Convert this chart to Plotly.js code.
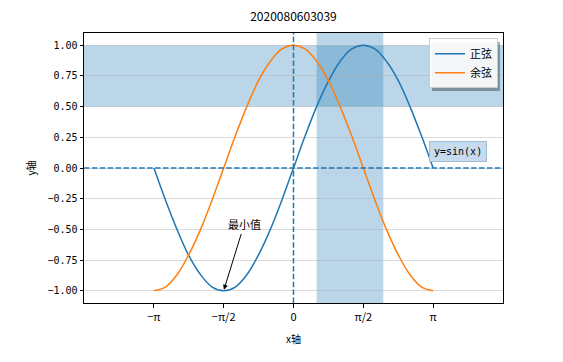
<!DOCTYPE html>
<html><head><meta charset="utf-8">
<script src="https://cdn.plot.ly/plotly-3.0.1.min.js"></script>
<style>html,body{margin:0;padding:0;background:#fff}#chart{width:563px;height:362px}</style>
</head><body><div id="chart"></div>
<script>
const xVals = [-3.14,-2.88,-2.62,-2.36,-2.09,-1.83,-1.57,-1.31,-1.05,-0.79,-0.52,-0.26,0,0.26,0.52,0.79,1.05,1.31,1.57,1.83,2.09,2.36,2.62,2.88,3.14];
const sinVals = [0,-0.26,-0.5,-0.71,-0.87,-0.97,-1,-0.97,-0.87,-0.71,-0.5,-0.26,0,0.26,0.5,0.71,0.87,0.97,1,0.97,0.87,0.71,0.5,0.26,0];
const cosVals = [-1,-0.97,-0.87,-0.71,-0.5,-0.26,0,0.26,0.5,0.71,0.87,0.97,1,0.97,0.87,0.71,0.5,0.26,0,-0.26,-0.5,-0.71,-0.87,-0.97,-1];
const seriesNames = ['正弦','余弦'];
const xTickVals = [-3.1416,-1.5708,0,1.5708,3.1416];
const xTickText = ['−π','−π/2','0','π/2','π'];
const yTickVals = [-1,-0.75,-0.5,-0.25,0,0.25,0.5,0.75,1];
const hSpan = [0.5, 1.0];
const vSpan = [0.52, 2.02];
const minPoint = [-1.5708, -1];
const minLabelPos = [-1.11, -0.46];
const sinLabelPos = [3.69, 0.134];

const font = '"Noto Sans CJK SC", "DejaVu Sans", sans-serif';
const mono = '"DejaVu Sans Mono", "Liberation Mono", monospace';
const blue = '#1f77b4', orange = '#ff7f0e';

const traces = [
  {x:xVals, y:sinVals, name:seriesNames[0], mode:'lines', line:{color:blue, width:1.5, shape:'spline', smoothing:1.0}},
  {x:xVals, y:cosVals, name:seriesNames[1], mode:'lines', line:{color:orange, width:1.5, shape:'spline', smoothing:1.0}}
];

const layout = {
  width:563, height:362,
  margin:{l:84, r:60, t:33, b:59},
  paper_bgcolor:'#fff', plot_bgcolor:'#fff',
  font:{family:font, size:10, color:'#000'},
  title:{text:'2020080603039', font:{family:font, size:12, color:'#000'}, x:0.5, xref:'paper', y:1-17/362, yref:'container', yanchor:'middle'},
  xaxis:{range:[-4.712,4.712], tickvals:xTickVals, ticktext:xTickText, ticks:'outside', ticklen:3.5, tickcolor:'#000',
    showline:true, linecolor:'#000', linewidth:1, mirror:true, showgrid:false, zeroline:false,
    tickfont:{family:font, size:11},
    title:{text:'x轴', font:{family:font, size:10}, standoff:13}},
  yaxis:{range:[-1.1,1.1], tickvals:yTickVals, tickformat:'.2f', ticks:'outside', ticklen:3.5, tickcolor:'#000',
    showline:true, linecolor:'#000', linewidth:1, mirror:true, showgrid:true, gridcolor:'rgba(176,176,176,0.45)', gridwidth:1, zeroline:false,
    tickfont:{family:mono, size:10},
    title:{text:'y轴', font:{family:font, size:10}, standoff:9}},
  showlegend:true,
  legend:{x:0.988, xanchor:'right', y:0.981, yanchor:'top', bgcolor:'rgba(255,255,255,0.92)', bordercolor:'#cccccc', borderwidth:1,
    font:{family:font, size:11}, tracegroupgap:0, itemwidth:30},
  shapes:[
    {type:'rect', xref:'paper', yref:'y', x0:0, x1:1, y0:hSpan[0], y1:hSpan[1], fillcolor:'rgba(31,119,180,0.3)', line:{width:0}, layer:'below'},
    {type:'rect', xref:'x', yref:'paper', x0:vSpan[0], x1:vSpan[1], y0:0, y1:1, fillcolor:'rgba(31,119,180,0.3)', line:{width:0}, layer:'below'},
    {type:'line', xref:'paper', yref:'y', x0:0, x1:1, y0:0, y1:0, line:{color:blue, width:1.5, dash:'5.5px,2.4px'}, layer:'above'},
    {type:'line', xref:'x', yref:'paper', x0:0, x1:0, y0:0, y1:1, line:{color:blue, width:1.5, dash:'5.5px,2.4px'}, layer:'above'}
  ],
  annotations:[
    {x:minPoint[0], y:minPoint[1], ax:minLabelPos[0], ay:minLabelPos[1], axref:'x', ayref:'y', xref:'x', yref:'y',
      text:'最小值', showarrow:true, arrowhead:2, arrowsize:1, arrowwidth:1, arrowcolor:'#000', standoff:1,
      font:{family:font, size:11, color:'#000'}},
    {x:sinLabelPos[0], y:sinLabelPos[1], xref:'x', yref:'y', text:'y=sin(x)', showarrow:false,
      bgcolor:'#c6dbed', bordercolor:'#9fbdd6', borderwidth:1, borderpad:4,
      font:{family:mono, size:10, color:'#000'}}
  ]
};
Plotly.newPlot('chart', traces, layout, {staticPlot:true, displayModeBar:false}).then(function(gd){
  // drop shadow behind the legend, like matplotlib's shadow=True
  const bg = gd.querySelector('.legend .bg');
  if (bg) {
    const lg = gd.querySelector('.legend');
    const sh = bg.cloneNode(false);
    sh.setAttribute('class','legend-shadow');
    sh.style.fill = 'rgba(0,0,0,0.35)';
    sh.style.stroke = 'none';
    sh.setAttribute('transform','translate(3,3)');
    lg.insertBefore(sh, lg.firstChild);
  }
});
</script></body></html>
